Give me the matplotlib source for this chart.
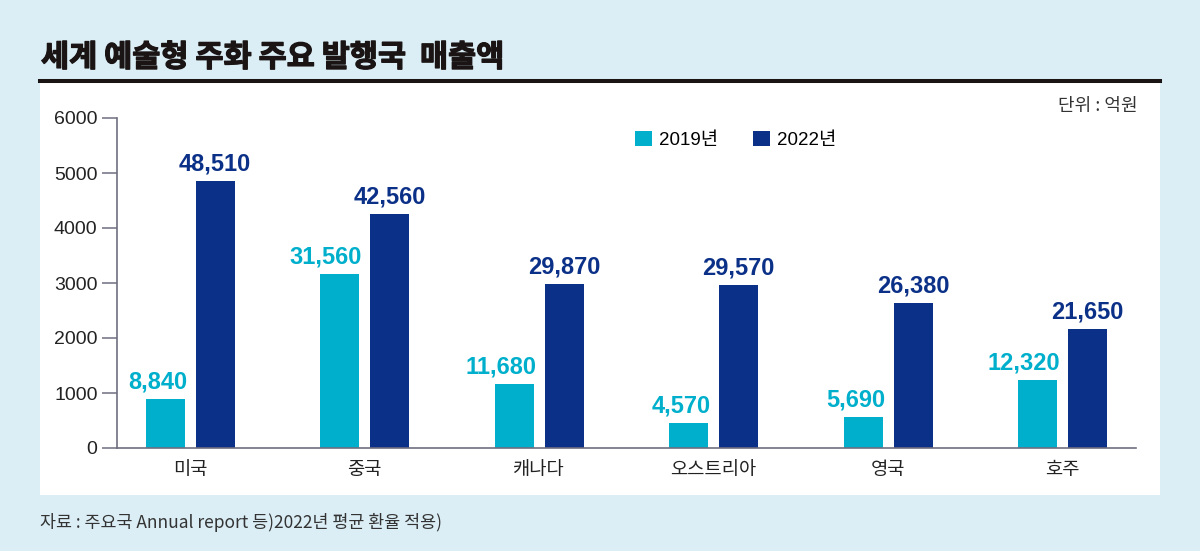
import matplotlib
matplotlib.use("Agg")
import matplotlib.pyplot as plt
import matplotlib.patheffects as pe
import numpy as np
from matplotlib.patches import Rectangle
from matplotlib.lines import Line2D

# data (억원, labels as printed; bars drawn at value/10 on the axis)
countries = ['미국', '중국', '캐나다', '오스트리아', '영국', '호주']
sales_2019 = [8840, 31560, 11680, 4570, 5690, 12320]
sales_2022 = [48510, 42560, 29870, 29570, 26380, 21650]
series_names = ['2019년', '2022년']
yticks = [0, 1000, 2000, 3000, 4000, 5000, 6000]

c19 = '#00afcb'
c22 = '#0b3087'
bg = '#dbeef5'
fam = ['Liberation Sans', 'Noto Sans CJK KR', 'DejaVu Sans']
kfam = ['Noto Sans CJK KR', 'DejaVu Sans']
plt.rcParams['font.family'] = fam

fig = plt.figure(figsize=(12, 5.51), dpi=100, facecolor=bg)
W, H = 1200, 551

# white panel and black rule under the title
fig.patches.append(Rectangle((40 / W, 1 - 495 / H), 1120 / W, (495 - 83) / H,
                             transform=fig.transFigure, facecolor='white', edgecolor='none', zorder=-10))
fig.lines.append(Line2D([40 / W, 1160 / W], [1 - 81 / H, 1 - 81 / H], transform=fig.transFigure,
                        color='#1a1414', linewidth=2.9))

fig.text(41 / W, 1 - 57.5 / H, '세계 예술형 주화 주요 발행국  매출액', fontsize=22, fontweight='black',
         family=kfam, color='#1a1414', va='center', ha='left',
         path_effects=[pe.withStroke(linewidth=0.9, foreground='#1a1414')])
fig.text(1138 / W, 1 - 106 / H, '단위 : 억원', fontsize=13, family=kfam, color='#333333',
         ha='right', va='center')
fig.text(40 / W, 1 - 522 / H, '자료 : 주요국 Annual report 등)2022년 평균 환율 적용)', fontsize=12.5,
         family=kfam, color='#333333', ha='left', va='center')

ax = fig.add_axes([117 / W, 1 - 448 / H, (1136 - 117) / W, (448 - 118) / H])
ax.set_facecolor('none')
ax.set_zorder(5)

x = np.arange(len(countries))
w = 0.225
off = 0.143
b1 = ax.bar(x - off, np.array(sales_2019) / 10, w, color=c19, label=series_names[0])
b2 = ax.bar(x + off, np.array(sales_2022) / 10, w, color=c22, label=series_names[1])

# 2019 labels sit right-aligned near the bar's right edge, 2022 labels centred
for xi, v in zip(x, sales_2019):
    ax.annotate(f'{v:,}', xy=(xi - off + w / 2, v / 10), xytext=(2, 4), textcoords='offset points',
                ha='right', va='bottom', color=c19, fontsize=17, fontweight='bold')
for xi, v in zip(x, sales_2022):
    ax.annotate(f'{v:,}', xy=(xi + off, v / 10), xytext=(0, 4), textcoords='offset points',
                ha='center', va='bottom', color=c22, fontsize=17, fontweight='bold')

ax.set_xlim(-0.42, 5.42)
ax.set_ylim(0, 6000)
ax.set_yticks(yticks)
ax.set_xticks(x)
ax.set_xticklabels(countries, family=kfam, fontsize=13.5, color='#222222')
ax.tick_params(axis='x', length=0, pad=8)
ax.tick_params(axis='y', length=11, width=1.1, color='#6e6e80', pad=3, labelsize=14, labelcolor='#222222')
for s in ['top', 'right']:
    ax.spines[s].set_visible(False)
for s in ['left', 'bottom']:
    ax.spines[s].set_color('#6e6e80')
    ax.spines[s].set_linewidth(1.2)

ax.legend(loc='center left', bbox_to_anchor=(618 / W, 1 - 140 / H), bbox_transform=fig.transFigure,
          ncol=2, frameon=False, handlelength=0.9, handleheight=0.9, handletextpad=0.4,
          columnspacing=1.85, prop=dict(family=fam, size=13.5))

fig.savefig('out.png', dpi=100, facecolor=bg)
